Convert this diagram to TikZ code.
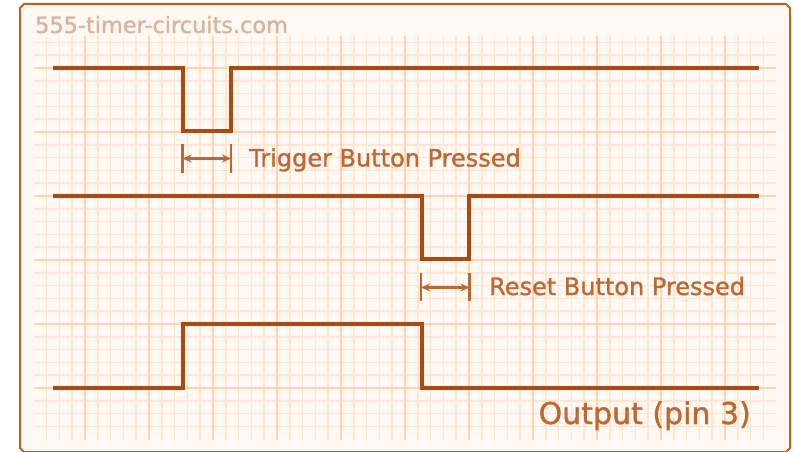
\documentclass[tikz,border=0pt]{standalone}
\usepackage{fontspec}
\setmainfont{DejaVu Sans}
\newfontfamily\plotfont[FakeBold=1.2]{DejaVu Sans}
\definecolor{TimerWave}{HTML}{B0480C}
\definecolor{TimerFrame}{HTML}{BC5E2A}
\definecolor{TimerPaper}{HTML}{FFF8F3}
\definecolor{TimerMajor}{HTML}{FFD4B0}
\definecolor{TimerMinor}{HTML}{FFE6D2}
\definecolor{TimerLabel}{HTML}{C2662F}
\definecolor{TimerMark}{HTML}{D9B49A}
\usetikzlibrary{arrows.meta, positioning}

\begin{document}
\begin{tikzpicture}[x=1pt, y=-1pt,
    wave/.style={TimerWave, line width=4.5pt, line join=miter},
    tick/.style={TimerLabel, line width=2.4pt},
    span/.style={TimerLabel, line width=2.2pt, {Stealth[length=9pt,width=8pt]}-{Stealth[length=9pt,width=8pt]}},
    label/.style={text=TimerLabel, inner sep=0pt, font=\plotfont\fontsize{24}{28}\selectfont}]
    \useasboundingbox (0,0) rectangle (793,452);

    % Paper with notched corners
    \draw[TimerFrame, line width=2pt, fill=TimerPaper]
        (24,4) -- (786,4) -- (790,8) -- (790,448) -- (786,452) -- (24,452) -- (20,448) -- (20,8) -- cycle;

    % Grid, minor then major lines
    \foreach \i in {1,...,57} {
        \pgfmathtruncatemacro{\m}{mod(\i,5)}
        \ifnum\m=4 \else
            \draw[TimerMinor, line width=1.5pt] (33.8+12.8*\i,36) -- (33.8+12.8*\i,440);
        \fi
    }
    \foreach \j in {0,...,30} {
        \pgfmathtruncatemacro{\m}{mod(\j,5)}
        \ifnum\m=2 \else
            \draw[TimerMinor, line width=1.5pt] (33.8,42.4+12.8*\j) -- (776.2,42.4+12.8*\j);
        \fi
    }
    \foreach \i in {0,...,10}
        \draw[TimerMajor, line width=2pt] (85+64*\i,36) -- (85+64*\i,440);
    \foreach \j in {0,...,5}
        \draw[TimerMajor, line width=2pt] (33.8,68+64*\j) -- (776.2,68+64*\j);

    % Watermark
    \node[text=TimerMark, inner sep=0pt, anchor=base west, font=\plotfont\fontsize{22.4}{26}\selectfont] (site) at (35,33) {555-timer-circuits.com};

    % Trigger input
    \draw[wave] (53,68) -- (183,68) -- (183,131) -- (231,131) -- (231,68) -- (759,68);
    % Reset input
    \draw[wave] (53,196) -- (422,196) -- (422,259) -- (469,259) -- (469,196) -- (759,196);
    % Output
    \draw[wave] (53,388) -- (183,388) -- (183,324) -- (422,324) -- (422,388) -- (759,388);

    % Trigger pulse width
    \coordinate (trigA) at (182.5,158.5);
    \coordinate (trigB) at (231,158.5);
    \draw[tick] (182.5,144) -- (182.5,173);
    \draw[tick] (231,144) -- (231,173);
    \draw[span] (trigA) -- (trigB);
    \node[label, anchor=base west] (trig) at (249,166.5) {Trigger Button Pressed};

    % Reset pulse width
    \coordinate (rstA) at (421,287.5);
    \coordinate (rstB) at (469.5,287.5);
    \draw[tick] (421,273) -- (421,301);
    \draw[tick] (469.5,273) -- (469.5,301);
    \draw[span] (rstA) -- (rstB);
    \node[label, anchor=base west] (rst) at (489,295) {Reset Button Pressed};

    \node[label, anchor=base east, font=\plotfont\fontsize{30}{34}\selectfont] (out) at (751,424) {Output (pin 3)};
\end{tikzpicture}
\end{document}
